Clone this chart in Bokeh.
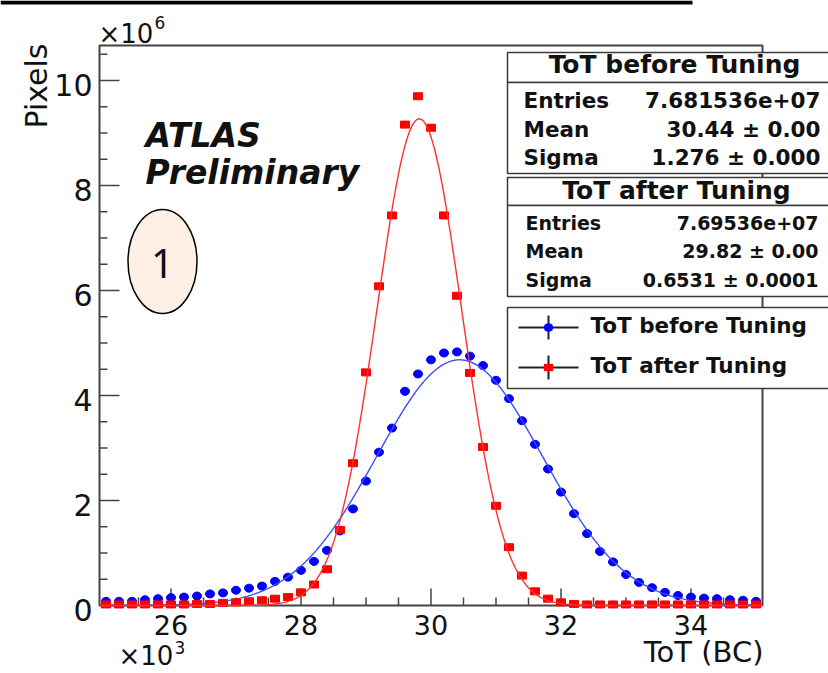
import numpy as np
from bokeh.plotting import figure
from bokeh.models import Range1d, Label, BoxAnnotation, Arrow
from bokeh.core.properties import value
from bokeh.embed import file_html
from bokeh.resources import INLINE

# ---------------- data (ToT in units of 10^3 BC, pixels in units of 10^6) ----------------
tot_bins = [25.0, 25.2, 25.4, 25.6, 25.8, 26.0, 26.2, 26.4, 26.6, 26.8,
            27.0, 27.2, 27.4, 27.6, 27.8, 28.0, 28.2, 28.4, 28.6, 28.8,
            29.0, 29.2, 29.4, 29.6, 29.8, 30.0, 30.2, 30.4, 30.6, 30.8,
            31.0, 31.2, 31.4, 31.6, 31.8, 32.0, 32.2, 32.4, 32.6, 32.8,
            33.0, 33.2, 33.4, 33.6, 33.8, 34.0, 34.2, 34.4, 34.6, 34.8, 35.0]

before_tuning = [0.08, 0.08, 0.08, 0.11, 0.13, 0.15, 0.16, 0.18, 0.22, 0.24,
                 0.29, 0.33, 0.37, 0.46, 0.54, 0.67, 0.84, 1.05, 1.42, 1.84,
                 2.37, 2.92, 3.38, 4.08, 4.41, 4.68, 4.81, 4.83, 4.75, 4.57,
                 4.29, 3.94, 3.52, 3.07, 2.60, 2.16, 1.75, 1.37, 1.03, 0.83,
                 0.59, 0.44, 0.34, 0.25, 0.19, 0.16, 0.14, 0.13, 0.11, 0.10, 0.08]

after_tuning = [0.02, 0.02, 0.02, 0.02, 0.02, 0.02, 0.02, 0.03, 0.03, 0.05,
                0.06, 0.08, 0.10, 0.13, 0.16, 0.25, 0.40, 0.69, 1.44, 2.71,
                4.44, 6.08, 7.43, 9.16, 9.70, 9.10, 7.43, 5.90, 4.43, 3.02,
                1.90, 1.11, 0.57, 0.27, 0.13, 0.06, 0.03, 0.02, 0.02, 0.02,
                0.02, 0.02, 0.02, 0.02, 0.02, 0.02, 0.02, 0.02, 0.02, 0.02, 0.02]

# Gaussian fit parameters (amplitude, mean/sigma from the stats boxes)
fit_before = {"amp": 4.68, "mean": 30.44, "sigma": 1.276}
fit_after = {"amp": 9.27, "mean": 29.82, "sigma": 0.6531}

stats_before = [("Entries", "7.681536e+07"), ("Mean", "30.44 \u00b1 0.00"), ("Sigma", "1.276 \u00b1 0.000")]
stats_after = [("Entries", "7.69536e+07"), ("Mean", "29.82 \u00b1 0.00"), ("Sigma", "0.6531 \u00b1 0.0001")]
legend_labels = ["ToT before Tuning", "ToT after Tuning"]

x_ticks = [26, 28, 30, 32, 34]
x_minor = [25, 25.5, 26.5, 27, 27.5, 28.5, 29, 29.5, 30.5, 31, 31.5, 32.5, 33, 33.5, 34.5, 35]
y_ticks = [0, 2, 4, 6, 8, 10]
y_minor = [0.5, 1, 1.5, 2.5, 3, 3.5, 4.5, 5, 5.5, 6.5, 7, 7.5, 8.5, 9, 9.5, 10.5]

# ---------------- layout constants (canvas pixels) ----------------
W, H = 828, 673
FL, FR, FT, FB = 99, 762, 45, 605          # plot frame in canvas pixels
X0, X1 = 24.9, 35.1                         # histogram range
YMAX = (FB - FT) / 52.5                     # 52.5 px per 10^6
BL = 0.38                                   # baseline correction (fraction of font size)


def X(px):
    return X0 + (px - FL) * (X1 - X0) / (FR - FL)


def Y(py):
    return (FB - py) * YMAX / (FB - FT)


p = figure(width=W, height=H, output_backend="svg", toolbar_location=None,
           x_range=Range1d(X(0), X(W)), y_range=Range1d(Y(H), Y(0)),
           x_axis_location=None, y_axis_location=None,
           min_border=0, min_border_left=0, min_border_right=0,
           min_border_top=0, min_border_bottom=0)
p.background_fill_color = "white"
p.border_fill_color = "white"
p.outline_line_color = None
p.grid.visible = False

AX = "#444444"
TXT = "#111111"
FONT = value("DejaVu Sans")

# ---------------- frame, ticks and tick labels ----------------
p.quad(left=[X0], right=[X1], bottom=[0], top=[YMAX], fill_color=None,
       line_color=AX, line_width=2)

ymaj_len = (X1 - X0) / (FR - FL) * 20
ymin_len = (X1 - X0) / (FR - FL) * 8
xmaj_len = YMAX / (FB - FT) * 17
xmin_len = YMAX / (FB - FT) * 8

p.segment(x0=[X0] * len(y_ticks), y0=y_ticks, x1=[X0 + ymaj_len] * len(y_ticks), y1=y_ticks,
          line_color=AX, line_width=1.5)
p.segment(x0=[X0] * len(y_minor), y0=y_minor, x1=[X0 + ymin_len] * len(y_minor), y1=y_minor,
          line_color=AX, line_width=1.5)
p.segment(x0=x_ticks, y0=[0] * len(x_ticks), x1=x_ticks, y1=[xmaj_len] * len(x_ticks),
          line_color=AX, line_width=1.5)
p.segment(x0=x_minor, y0=[0] * len(x_minor), x1=x_minor, y1=[xmin_len] * len(x_minor),
          line_color=AX, line_width=1.5)

p.text(x=[X(92)] * len(y_ticks), y=y_ticks, text=[str(t) for t in y_ticks],
       text_font=FONT, text_font_size="30px", text_align="right",
       text_baseline="alphabetic", y_offset=16 - BL * 30, text_color=TXT)
p.text(x=x_ticks, y=[0] * len(x_ticks), text=[str(t) for t in x_ticks],
       text_font=FONT, text_font_size="27px", text_align="center",
       text_baseline="alphabetic", y_offset=30 - BL * 27, text_color=TXT)

# ---------------- data ----------------
p.ellipse(tot_bins, before_tuning, width=9, height=8, width_units="screen",
          height_units="screen", fill_color="#0000ff", line_color="#0000ff")
xs = np.linspace(X0, X1, 600)
p.line(xs, fit_before["amp"] * np.exp(-0.5 * ((xs - fit_before["mean"]) / fit_before["sigma"]) ** 2),
       line_color="#3a4dff", line_width=1.4)
p.rect(tot_bins, after_tuning, width=9, height=7, width_units="screen",
       height_units="screen", fill_color="#ff0000", line_color="#ff0000")
p.line(xs, fit_after["amp"] * np.exp(-0.5 * ((xs - fit_after["mean"]) / fit_after["sigma"]) ** 2),
       line_color="#ff3030", line_width=1.4)

# annotation oval "1"
p.ellipse([X(162)], [Y(261)], width=69, height=104, width_units="screen", height_units="screen",
          fill_color="#fdefe3", line_color="black", line_width=1.5)


# ---------------- annotations ----------------
def label(px, py, text, size, font="DejaVu Sans", style="normal", align="left", angle=0):
    if angle:
        px, py = px - BL * size, py
    else:
        py = py - BL * size
    p.add_layout(Label(x=X(px), y=Y(py), text=text, text_font=font, text_font_size=f"{size}px",
                       text_font_style=style, text_align=align, text_baseline="alphabetic",
                       text_color=TXT, angle=angle))


def box(l, t, r, b):
    p.add_layout(BoxAnnotation(left=X(l), right=X(r), top=Y(t), bottom=Y(b),
                               fill_color="white", fill_alpha=1.0,
                               line_color="#3a3a3a", line_width=1.5, line_alpha=1.0))


# black bar at the top
p.add_layout(BoxAnnotation(left=X(0), right=X(692), top=Y(0), bottom=Y(4),
                           fill_color="black", fill_alpha=1.0, line_color=None))

# ATLAS Preliminary
label(145, 148, "ATLAS", 33, style="bold italic")
label(145, 185, "Preliminary", 33, style="bold italic")

# "1" in the oval
label(162, 278, "1", 40, font="Noto Sans", align="center")

# axis titles / multipliers
label(47, 43, "Pixels", 30, align="right", angle=np.pi / 2)
label(98, 43, "\u00d710", 26)
label(154, 28, "6", 17)
label(118, 665, "\u00d710", 26)
label(174, 653, "3", 17)
label(763, 663, "ToT (BC)", 29, align="right")

# stats box 1
box(507, 52, 841, 82)
box(507, 82, 841, 173)
label(674, 73, "ToT before Tuning", 25, style="bold", align="center")
for (name, val), by in zip(stats_before, [108, 137, 165]):
    label(523, by, name, 21.5, style="bold")
    label(820, by, val, 21.5, style="bold", align="right")

# stats box 2
box(507, 177, 841, 205)
box(507, 205, 841, 296)
label(676, 199, "ToT after Tuning", 25, style="bold", align="center")
for (name, val), by in zip(stats_after, [230, 258, 287]):
    label(525, by, name, 19, style="bold")
    label(818, by, val, 19, style="bold", align="right")

# legend box
box(507, 307, 841, 388)
for ly, col, kind, txt in [(327, "#0000ff", "circle", legend_labels[0]),
                           (367, "#ff0000", "square", legend_labels[1])]:
    p.add_layout(Arrow(end=None, x_start=X(518), y_start=Y(ly), x_end=X(578), y_end=Y(ly),
                       line_color="#222222", line_width=2))
    p.add_layout(Arrow(end=None, x_start=X(548), y_start=Y(ly - 12), x_end=X(548), y_end=Y(ly + 12),
                       line_color="#222222", line_width=2))
    if kind == "circle":
        p.add_layout(BoxAnnotation(left=X(543.5), right=X(552.5), top=Y(ly - 4), bottom=Y(ly + 4),
                                   fill_color=col, fill_alpha=1.0, line_color=col, border_radius=4))
    else:
        p.add_layout(BoxAnnotation(left=X(543.5), right=X(552.5), top=Y(ly - 3.5), bottom=Y(ly + 3.5),
                                   fill_color=col, fill_alpha=1.0, line_color=col))
    label(590, ly + 6, txt, 21.5, style="bold")

open("out.html", "w").write(file_html(p, INLINE))
